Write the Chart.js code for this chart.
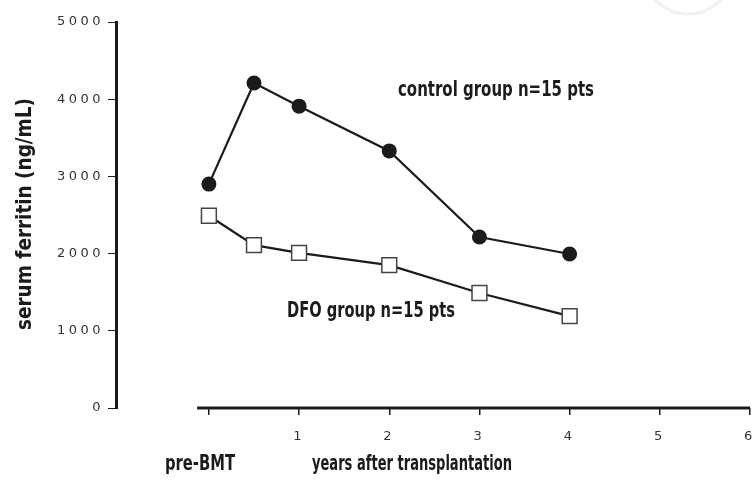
<!DOCTYPE html>
<html>
<head>
<meta charset="utf-8">
<script src="https://cdn.jsdelivr.net/npm/chart.js@4.4.0/dist/chart.umd.min.js"></script>
<style>
    html, body { margin: 0; padding: 0; background: #fff; }
    #wrap { width: 756px; height: 486px; }
</style>
</head>
<body>
<div id="wrap"><canvas id="ferritinChart" width="756" height="486"></canvas></div>
<script>
// years after transplantation (0 = pre-BMT)
const years = [0, 0.5, 1, 2, 3, 4];
const controlFerritin = [2900, 4210, 3910, 3330, 2215, 1995];
const dfoFerritin = [2490, 2110, 2010, 1850, 1490, 1190];

const xTickValues = [0, 1, 2, 3, 4, 5, 6];
const xTickLabels = ['', '1', '2', '3', '4', '5', '6'];
const yTickValues = [0, 1000, 2000, 3000, 4000, 5000];

const ink = '#1c1a1a';
const narrowFont = "'Liberation Sans Narrow', 'DejaVu Sans Condensed', 'Liberation Sans', sans-serif";

// draws bold text squeezed to a given width, to fake the condensed typeface
function squeezedText(ctx, text, x, y, width, size, rotate) {
    ctx.save();
    ctx.font = `bold ${size}px ${narrowFont}`;
    ctx.fillStyle = ink;
    ctx.textBaseline = 'alphabetic';
    ctx.textAlign = 'left';
    const w = ctx.measureText(text).width;
    ctx.translate(x, y);
    if (rotate) ctx.rotate(-Math.PI / 2);
    ctx.scale(width / w, 1);
    ctx.fillText(text, 0, 0);
    ctx.restore();
}

const extrasPlugin = {
    id: 'extras',
    beforeDraw(chart) {
        chart.ctx.letterSpacing = '3.5px';
    },
    afterDraw(chart) {
        const ctx = chart.ctx;
        const x = chart.scales.x;
        const y = chart.scales.y;
        ctx.letterSpacing = '0px';

        // detached x axis line
        ctx.save();
        ctx.strokeStyle = ink;
        ctx.lineWidth = 3;
        ctx.beginPath();
        ctx.moveTo(x.getPixelForValue(-0.13), y.getPixelForValue(0));
        ctx.lineTo(x.getPixelForValue(6), y.getPixelForValue(0));
        ctx.stroke();

        // faint watermark ring at the top
        ctx.strokeStyle = '#f1f1f1';
        ctx.lineWidth = 3;
        ctx.beginPath();
        ctx.arc(688, -30, 44, 0, Math.PI);
        ctx.stroke();
        ctx.restore();

        squeezedText(ctx, 'control group n=15 pts', 398, 96, 196, 22);
        squeezedText(ctx, 'DFO group n=15 pts', 287, 317, 168, 22);
        squeezedText(ctx, 'pre-BMT', 165, 470, 70, 21);
        squeezedText(ctx, 'years after transplantation', 312, 470, 200, 21);
        squeezedText(ctx, 'serum ferritin (ng/mL)', 31, 330, 232, 21, true);
    }
};

new Chart(document.getElementById('ferritinChart'), {
    type: 'line',
    data: {
        datasets: [{
            label: 'control group',
            data: years.map((t, i) => ({ x: t, y: controlFerritin[i] })),
            borderColor: ink,
            borderWidth: 2.2,
            backgroundColor: ink,
            pointStyle: 'circle',
            pointRadius: 7.5,
            pointBorderWidth: 0,
            pointBackgroundColor: ink,
            tension: 0
        }, {
            label: 'DFO group',
            data: years.map((t, i) => ({ x: t, y: dfoFerritin[i] })),
            borderColor: ink,
            borderWidth: 2.2,
            pointStyle: 'rect',
            pointRadius: 10.5,
            pointBorderWidth: 1.5,
            pointBorderColor: '#444',
            pointBackgroundColor: '#fff',
            tension: 0
        }]
    },
    options: {
        responsive: false,
        animation: false,
        layout: {
            autoPadding: false,
            padding: { top: 22, right: 6, left: 0, bottom: 0 }
        },
        plugins: {
            legend: { display: false },
            tooltip: { enabled: false }
        },
        scales: {
            x: {
                type: 'linear',
                min: -1.03,
                max: 6,
                afterBuildTicks: scale => {
                    scale.ticks = xTickValues.map(v => ({ value: v }));
                },
                afterFit: scale => {
                    scale.height = 78;
                    scale.paddingLeft = 0;
                    scale.paddingRight = 0;
                },
                border: { display: false },
                grid: {
                    drawOnChartArea: false,
                    drawTicks: true,
                    tickLength: 7,
                    color: ink,
                    lineWidth: 1.5
                },
                ticks: {
                    padding: 14,
                    color: '#333',
                    font: { family: "'DejaVu Sans', sans-serif", size: 13 },
                    callback: (v) => xTickLabels[xTickValues.indexOf(v)],
                    maxRotation: 0,
                    autoSkip: false
                }
            },
            y: {
                min: 0,
                max: 5000,
                afterBuildTicks: scale => {
                    scale.ticks = yTickValues.map(v => ({ value: v }));
                },
                afterFit: scale => { scale.width = 116; },
                border: { display: true, color: ink, width: 3 },
                grid: {
                    drawOnChartArea: false,
                    drawTicks: true,
                    tickLength: 8,
                    color: ink,
                    lineWidth: 1
                },
                ticks: {
                    padding: 4,
                    color: '#333',
                    font: { family: "'DejaVu Sans', sans-serif", size: 13 },
                    callback: (v) => String(v)
                }
            }
        }
    },
    plugins: [extrasPlugin]
});
</script>
</body>
</html>
